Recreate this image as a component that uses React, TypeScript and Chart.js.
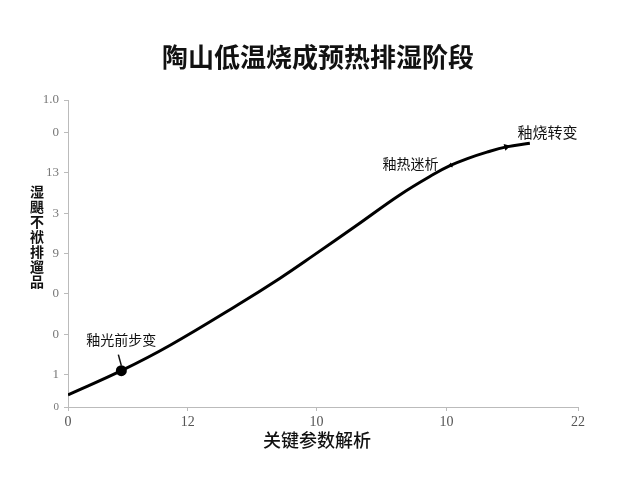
import { useEffect, useRef } from 'react'
import { Chart, registerables } from 'chart.js'

Chart.register(...registerables)

const TITLE = '陶山低温烧成预热排湿阶段'
const X_TITLE = '关键参数解析'
const Y_TITLE = '湿颶不袱排遛品'

const X_TICKS = [0, 0.92, 1.91, 2.91, 3.92]
const X_TICK_LABELS = ['0', '12', '10', '10', '22']
const Y_TICKS = [0, 0.8, 1.8, 2.8, 3.8, 4.8, 5.8, 6.8, 7.6]
const Y_TICK_LABELS = ['0', '1', '0', '0', '9', '3', '13', '0', '1.0']

const CURVE_X = [0, 0.41, 0.785, 1.3, 1.63, 1.89, 2.22, 2.55, 2.81, 2.94, 3.07, 3.22, 3.37, 3.55]
const CURVE_Y = [0.3, 0.9, 1.53, 2.52, 3.19, 3.76, 4.5, 5.25, 5.76, 5.98, 6.15, 6.31, 6.44, 6.53]

// annotated points: index into the curve, label
const NOTES = [
  { index: 1, text: '釉光前步变' },
  { index: 9, text: '釉热迷析' },
  { index: 12, text: '釉烧转变' },
]

const CJK = '"Noto Sans CJK SC", "Noto Sans", sans-serif'
const SERIF = '"Liberation Serif", "DejaVu Serif", serif'

const textPlugin = {
  id: 'texts',
  afterDraw(chart: Chart) {
    const { ctx } = chart
    const xs = chart.scales.x
    const ys = chart.scales.y
    ctx.save()
    ctx.fillStyle = '#111'
    ctx.textAlign = 'center'
    ctx.textBaseline = 'middle'
    ctx.font = `bold 26px ${CJK}`
    ctx.fillText(TITLE, 318, 57)

    ctx.font = `500 18px ${CJK}`
    ctx.fillText(X_TITLE, 317, 440)

    ctx.font = `bold 14px ${CJK}`
    const chars = Array.from(Y_TITLE)
    chars.forEach((c, i) => ctx.fillText(c, 37, 192 + i * 15))

    const pt = (i: number) => ({ x: xs.getPixelForValue(CURVE_X[i]), y: ys.getPixelForValue(CURVE_Y[i]) })

    // first note with leader line
    const p1 = pt(NOTES[0].index)
    ctx.font = `14px ${CJK}`
    ctx.textAlign = 'center'
    ctx.fillText(NOTES[0].text, p1.x, p1.y - 31)
    ctx.strokeStyle = '#111'
    ctx.lineWidth = 1.5
    ctx.beginPath()
    ctx.moveTo(p1.x - 3, p1.y - 16)
    ctx.lineTo(p1.x, p1.y - 5)
    ctx.stroke()

    const p2 = pt(NOTES[1].index)
    ctx.textAlign = 'right'
    ctx.fillText(NOTES[1].text, p2.x - 12, p2.y - 2)

    const p3 = pt(NOTES[2].index)
    ctx.textAlign = 'left'
    ctx.font = `15px ${CJK}`
    ctx.fillText(NOTES[2].text, p3.x + 11, p3.y - 15)
    ctx.restore()
  },
}

export default function App() {
  const canvasRef = useRef<HTMLCanvasElement>(null)
  const chartRef = useRef<Chart | null>(null)

  useEffect(() => {
    if (!canvasRef.current) return
    if (chartRef.current) chartRef.current.destroy()

    const [m0, m1, m2] = NOTES.map(n => n.index)
    const radius = CURVE_X.map((_, i) => (i === m0 ? 5.5 : i === m1 ? 3 : i === m2 ? 4 : 0))
    const style = CURVE_X.map((_, i) => (i === m0 ? 'circle' : 'triangle'))
    const rotation = CURVE_X.map((_, i) => (i === m1 ? -115 : i === m2 ? 75 : 0))

    chartRef.current = new Chart(canvasRef.current, {
      type: 'line',
      data: {
        datasets: [
          {
            data: CURVE_X.map((x, i) => ({ x, y: CURVE_Y[i] })),
            borderColor: '#000',
            backgroundColor: '#000',
            borderWidth: 3,
            tension: 0.4,
            pointRadius: radius,
            pointStyle: style as any,
            pointRotation: rotation,
            pointBorderWidth: 0,
            fill: false,
          },
        ],
      },
      options: {
        animation: false,
        responsive: true,
        maintainAspectRatio: false,
        layout: { padding: { top: 100, right: 62, left: 0, bottom: 0 } },
        plugins: { legend: { display: false }, tooltip: { enabled: false }, title: { display: false } },
        scales: {
          x: {
            type: 'linear',
            min: 0,
            max: 3.92,
            afterBuildTicks: (s) => { s.ticks = X_TICKS.map(v => ({ value: v })) },
            afterFit: (s) => { s.height = 73 },
            border: { color: '#bbb' },
            grid: { drawOnChartArea: false, color: '#bbb', tickLength: 4 },
            ticks: {
              color: '#555',
              padding: 3,
              maxRotation: 0,
              font: { family: SERIF, size: 14 },
              callback: (_v, i) => X_TICK_LABELS[i],
            },
          },
          y: {
            type: 'linear',
            min: 0,
            max: 7.6,
            afterBuildTicks: (s) => { s.ticks = Y_TICKS.map(v => ({ value: v })) },
            afterFit: (s) => { s.width = 68 },
            border: { color: '#bbb' },
            grid: { drawOnChartArea: false, color: '#bbb', tickLength: 4 },
            ticks: {
              color: '#777',
              padding: 5,
              font: (c) => ({ family: SERIF, size: c.index === 0 ? 11 : 13 }),
              callback: (_v, i) => Y_TICK_LABELS[i],
            },
          },
        },
      },
      plugins: [textPlugin],
    })

    return () => { chartRef.current?.destroy() }
  }, [])

  return (
    <div style={{ position: 'absolute', left: 0, top: 0, width: 640, height: 480, background: '#fff' }}>
      <canvas ref={canvasRef} />
    </div>
  )
}
